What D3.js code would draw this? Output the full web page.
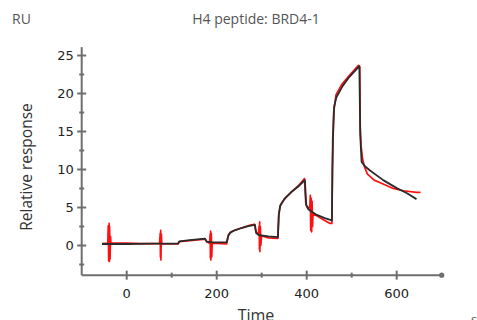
<!DOCTYPE html>
<html>
<head>
<meta charset="utf-8">
<script src="https://cdn.jsdelivr.net/npm/d3@7"></script>
<style>
  body { margin: 0; background: #fff; }
  svg { display: block; }
</style>
</head>
<body>
<div id="chart"></div>
<script>
// fitted curve (black), [time s, RU]
const fitCurve = [
  [-55, 0.2], [0, 0.2], [60, 0.25], [114, 0.25], [117, 0.55], [140, 0.7], [174, 0.9],
  [178, 0.5], [190, 0.4], [222, 0.4], [226, 1.3], [230, 1.7], [240, 2.0], [255, 2.3],
  [270, 2.55], [285, 2.7], [288, 1.6], [295, 1.35], [315, 1.2], [336, 1.1], [338, 4.0],
  [341, 5.2], [350, 6.1], [365, 7.0], [380, 7.7], [396, 8.6], [399, 5.3], [405, 4.7],
  [420, 4.1], [440, 3.6], [456, 3.3], [458, 14], [461, 18.3], [466, 19.5], [480, 21.0],
  [495, 22.2], [517, 23.6], [519, 14.5], [522, 11.0], [530, 10.4], [540, 9.9],
  [570, 8.6], [600, 7.55], [622, 6.9], [644, 6.1]
];

// measured response (red), [time s, RU]
const measured = [
  [-55, 0.25], [-42, 0.3], [-41, 2.6], [-40, -2.0], [-39, 2.9], [-38.5, -2.1], [-38, 2.5],
  [-37, -1.8], [-36, 1.2], [-35, 0.3],
  [0, 0.3], [30, 0.25], [73, 0.25], [74.5, 1.6], [75, -1.5], [75.5, 2.0], [76, -1.9],
  [77, 1.5], [78, 0.25],
  [114, 0.2], [117, 0.5], [140, 0.65], [174, 0.85], [178, 0.5], [184, 0.3],
  [185.5, 1.5], [186, -1.6], [186.5, 1.9], [187, -1.9], [188, 1.6], [189, -1.5], [190, 0.3],
  [222, 0.2], [226, 1.4], [232, 1.8], [245, 2.1], [260, 2.4], [275, 2.7], [284, 2.8],
  [287, 1.8], [292, 1.4], [294.5, 2.6], [295, -0.5], [295.5, 3.1], [296, -0.8],
  [297, 2.5], [298, 0.0], [300, 1.3], [315, 1.0],
  [336, 0.95], [338, 4.2], [342, 5.4], [352, 6.2], [367, 7.1], [382, 7.9], [395, 8.8],
  [398, 5.5], [403, 4.8], [407, 5.2], [408, 6.6], [409, 2.0], [410, 6.2], [411, 1.8],
  [412, 5.8], [413, 2.5], [414, 4.2], [425, 3.8], [440, 3.3], [452, 2.9],
  [456, 2.9], [457, 10], [460, 17.5], [465, 19.8], [478, 21.2], [495, 22.4], [515, 23.7],
  [518, 23.5], [519, 15.5], [521, 13.0], [524, 11.5], [528, 10.4], [535, 9.4],
  [550, 8.6], [570, 8.1], [592, 7.5], [615, 7.2], [644, 7.0], [653, 7.0]
];

const yMajor = [0, 5, 10, 15, 20, 25];
const yMinor = [-2.5, 2.5, 7.5, 12.5, 17.5, 22.5];
const xMajor = [0, 200, 400, 600];
const xMinor = [100, 300, 500];

const width = 477, height = 320;
const axisColor = '#6e6e6e';
const labelFont = '"DejaVu Sans", Verdana, sans-serif';
const textFont = '"Open Sans", "Noto Sans", sans-serif';

const x = d3.scaleLinear().domain([-100, 700]).range([81.7, 441.7]);
const y = d3.scaleLinear().domain([0, 25]).range([245.5, 55.5]);

const svg = d3.select('#chart').append('svg')
  .attr('width', width)
  .attr('height', height);

// titles
svg.append('text')
  .attr('x', 12).attr('y', 24)
  .attr('font-family', textFont).attr('font-size', 14)
  .attr('fill', '#555')
  .text('RU');

svg.append('text')
  .attr('x', 256).attr('y', 24)
  .attr('text-anchor', 'middle')
  .attr('font-family', textFont).attr('font-size', 14)
  .attr('fill', '#555')
  .text('H4 peptide: BRD4-1');

svg.append('text')
  .attr('transform', `translate(32,167) rotate(-90)`)
  .attr('text-anchor', 'middle')
  .attr('font-family', textFont).attr('font-size', 15.5)
  .attr('fill', '#333')
  .text('Relative response');

// axis titles sit partly below the bottom edge, as in the source
svg.append('text')
  .attr('x', 256).attr('y', 321)
  .attr('text-anchor', 'middle')
  .attr('font-family', textFont).attr('font-size', 16)
  .attr('fill', '#333')
  .text('Time');

svg.append('text')
  .attr('x', 471).attr('y', 324)
  .attr('font-family', textFont).attr('font-size', 13)
  .attr('fill', '#555')
  .text('s');

// axes
const axes = svg.append('g').attr('stroke', axisColor);
const yBottom = y(-3.9), yTop = y(26.1);
const x0 = x(-100);

axes.append('line')
  .attr('x1', x0).attr('x2', x0)
  .attr('y1', yTop).attr('y2', yBottom)
  .attr('stroke-width', 2);
axes.append('line')
  .attr('x1', x0).attr('x2', x(700))
  .attr('y1', yBottom).attr('y2', yBottom)
  .attr('stroke-width', 2);
svg.append('circle')
  .attr('cx', x(700)).attr('cy', yBottom).attr('r', 2.6)
  .attr('fill', axisColor);

axes.selectAll('.ymaj').data(yMajor).enter().append('line')
  .attr('x1', x0 - 4.5).attr('x2', x0 + 4.5)
  .attr('y1', d => y(d)).attr('y2', d => y(d))
  .attr('stroke-width', 2);
axes.selectAll('.ymin').data(yMinor).enter().append('line')
  .attr('x1', x0 - 2.5).attr('x2', x0 + 2.5)
  .attr('y1', d => y(d)).attr('y2', d => y(d))
  .attr('stroke-width', 2);
axes.selectAll('.xmaj').data(xMajor).enter().append('line')
  .attr('x1', d => x(d)).attr('x2', d => x(d))
  .attr('y1', yBottom - 4.5).attr('y2', yBottom + 4.5)
  .attr('stroke-width', 2);
axes.selectAll('.xmin').data(xMinor).enter().append('line')
  .attr('x1', d => x(d)).attr('x2', d => x(d))
  .attr('y1', yBottom - 2.5).attr('y2', yBottom + 2.5)
  .attr('stroke-width', 2);

svg.selectAll('.ylab').data(yMajor).enter().append('text')
  .attr('x', x0 - 8).attr('y', d => y(d))
  .attr('dy', '0.36em')
  .attr('text-anchor', 'end')
  .attr('font-family', labelFont).attr('font-size', 13)
  .attr('fill', '#222')
  .text(d => d);

svg.selectAll('.xlab').data(xMajor).enter().append('text')
  .attr('x', d => x(d)).attr('y', 298)
  .attr('text-anchor', 'middle')
  .attr('font-family', labelFont).attr('font-size', 13)
  .attr('fill', '#222')
  .text(d => d);

// curves
const line = d3.line().x(d => x(d[0])).y(d => y(d[1]));

svg.append('path')
  .datum(measured)
  .attr('d', line)
  .attr('fill', 'none')
  .attr('stroke', '#ff1010')
  .attr('stroke-width', 1.7)
  .attr('stroke-linejoin', 'round');

svg.append('path')
  .datum(fitCurve)
  .attr('d', line)
  .attr('fill', 'none')
  .attr('stroke', '#2a2a2a')
  .attr('stroke-width', 1.8)
  .attr('stroke-linejoin', 'round');
</script>
</body>
</html>
